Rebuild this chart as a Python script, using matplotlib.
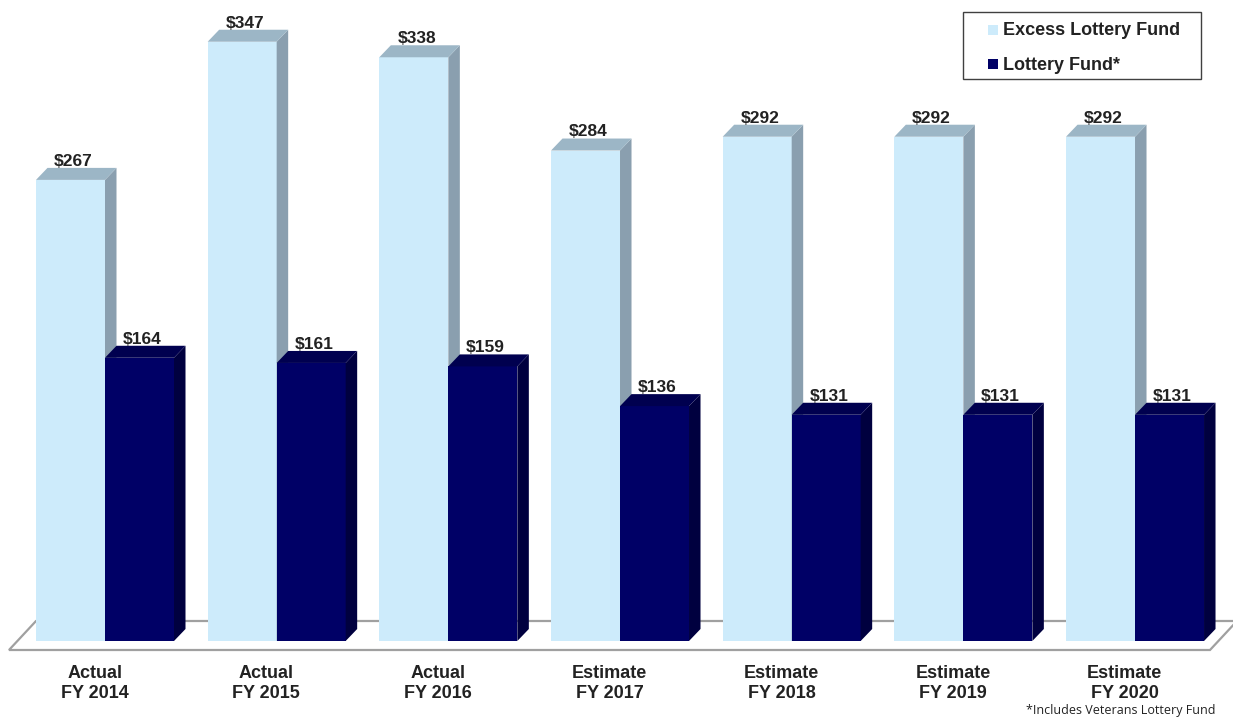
import matplotlib
matplotlib.use("Agg")
import matplotlib.pyplot as plt
from matplotlib.patches import Polygon, Rectangle

# ---- data -------------------------------------------------------------
periods = ["Actual", "Actual", "Actual", "Estimate", "Estimate", "Estimate", "Estimate"]
fiscal_years = ["FY 2014", "FY 2015", "FY 2016", "FY 2017", "FY 2018", "FY 2019", "FY 2020"]
excess_lottery = [267, 347, 338, 284, 292, 292, 292]
lottery_fund = [164, 161, 159, 136, 131, 131, 131]
series_names = ["Excess Lottery Fund", "Lottery Fund*"]
footnote = "*Includes Veterans Lottery Fund"

# ---- styling ----------------------------------------------------------
W, H, DPI = 1233, 719, 100
PX_X = 171.67          # pixels per category step
PX_Y = 1.727           # pixels per value unit
X0_PX, Y0_PX = 105, 641  # pixel position of category 0 boundary / value 0

light = dict(front="#CDEBFB", top="#9CB6C6", side="#8A9FAF")
dark = dict(front="#000066", top="#00004F", side="#00003F")
text_color = "#222222"
font = ["Liberation Sans", "DejaVu Sans"]

bar_w = 69 / PX_X
dx = 11.5 / PX_X
dy = 12 / PX_Y

fig = plt.figure(figsize=(W / DPI, H / DPI), dpi=DPI)
ax = fig.add_axes([0, 0, 1, 1])
ax.set_xlim(-X0_PX / PX_X, (W - X0_PX) / PX_X)
ax.set_ylim(-(H - Y0_PX) / PX_Y, Y0_PX / PX_Y)
ax.axis("off")

# floor
fl_front = -(650 - Y0_PX) / PX_Y
fl_back = (Y0_PX - 621) / PX_Y
floor = Polygon([((9 - X0_PX) / PX_X, fl_front), ((1210 - X0_PX) / PX_X, fl_front),
                 ((1237 - X0_PX) / PX_X, fl_back), ((36 - X0_PX) / PX_X, fl_back)],
                closed=True, facecolor="white", edgecolor="#A0A0A0", lw=1.6, zorder=1)
ax.add_patch(floor)


def bar3d(x0, h, col, z):
    x1 = x0 + bar_w
    ax.add_patch(Rectangle((x0, 0), bar_w, h, facecolor=col["front"], edgecolor="none", zorder=z))
    ax.add_patch(Polygon([(x1, 0), (x1 + dx, dy), (x1 + dx, h + dy), (x1, h)],
                         facecolor=col["side"], edgecolor="none", zorder=z))
    ax.add_patch(Polygon([(x0, h), (x1, h), (x1 + dx, h + dy), (x0 + dx, h + dy)],
                         facecolor=col["top"], edgecolor="none", zorder=z))


for i, (a, b) in enumerate(zip(excess_lottery, lottery_fund)):
    bar3d(i - bar_w, a, light, 2 + 2 * i)
    bar3d(i, b, dark, 3 + 2 * i)
    for x0, v in ((i - bar_w, a), (i, b)):
        ax.annotate(f"${v}", xy=(x0 + bar_w / 2, v + dy), xytext=(2, 1.5),
                    textcoords="offset points", ha="center", va="baseline",
                    fontsize=12.5, fontweight="bold", color=text_color, family=font, zorder=20)
    ax.annotate(periods[i], xy=(i - 0.06, 0), xytext=(0, -26.3), textcoords="offset points",
                ha="center", va="baseline", fontsize=13, fontweight="bold",
                color=text_color, family=font)
    ax.annotate(fiscal_years[i], xy=(i - 0.06, 0), xytext=(0, -40.7), textcoords="offset points",
                ha="center", va="baseline", fontsize=13, fontweight="bold",
                color=text_color, family=font)

# legend box
def fx(px):
    return px / W


def fy(py):
    return 1 - py / H


fig.patches.append(Rectangle((fx(963), fy(79)), fx(1201) - fx(963), fy(12) - fy(79),
                             transform=fig.transFigure, facecolor="white",
                             edgecolor="#404040", lw=1.0, zorder=30))
for name, col, sq_top, base in ((series_names[0], light["front"], 25, 35),
                                (series_names[1], dark["front"], 59, 70)):
    fig.patches.append(Rectangle((fx(988), fy(sq_top + 10)), fx(10), 10 / H,
                                 transform=fig.transFigure, facecolor=col,
                                 edgecolor="none", zorder=31))
    fig.text(fx(1003), fy(base), name, ha="left", va="baseline", fontsize=13,
             fontweight="bold", color=text_color, family=font, zorder=32)

fig.text(fx(1215), fy(714), footnote, ha="right", va="baseline", fontsize=9,
         color="#222222", family=["Open Sans", "DejaVu Sans"])

fig.savefig("out.png", dpi=DPI)
